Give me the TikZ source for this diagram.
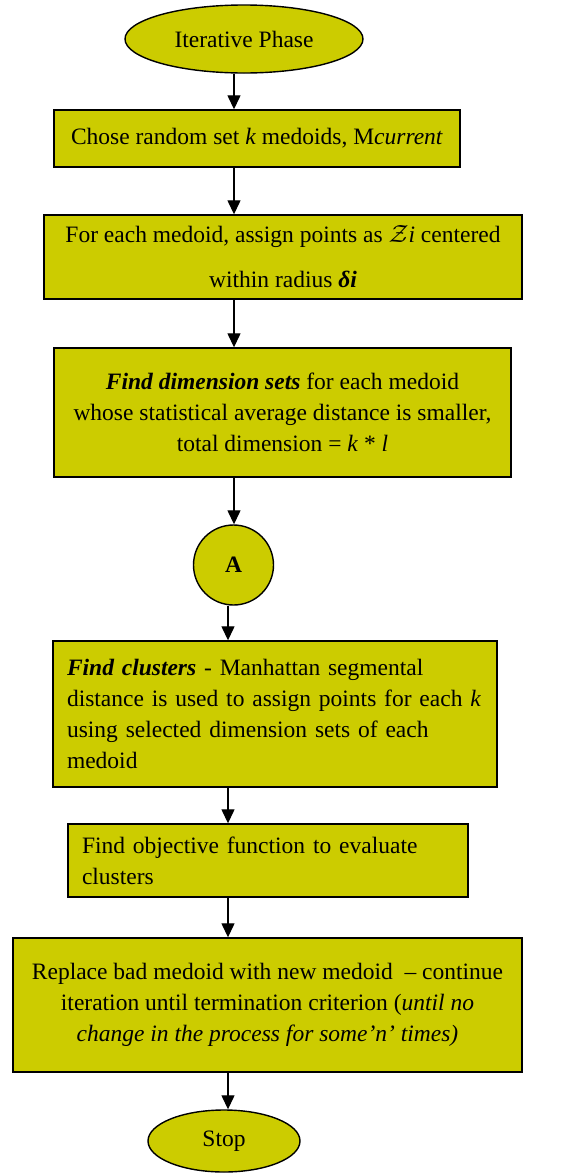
\documentclass[tikz,border=0pt]{standalone}
\usepackage{fontspec}
\setmainfont{Liberation Serif}
\usetikzlibrary{shapes.geometric,arrows.meta}
\definecolor{boxfill}{RGB}{204,204,0}
\tikzset{
  txt/.style={font=\fontsize{23.5}{31}\selectfont},
  stepbox/.style={txt, draw=black, line width=1.4pt, fill=boxfill, rectangle, inner sep=0pt, align=center},
  leftbox/.style={stepbox, align=left},
  terminal/.style={txt, draw=black, line width=1.4pt, fill=boxfill, ellipse, inner sep=0pt},
  connector/.style={txt, draw=black, line width=1.4pt, fill=boxfill, circle, inner sep=0pt},
  arr/.style={line width=1.3pt, -{Triangle[length=14pt,width=13pt]}}
}
\begin{document}
\begin{tikzpicture}[x=1pt,y=-1pt]
\useasboundingbox (0,0) rectangle (586,1173);

% flow axes
\coordinate (colA) at (234,0);
\coordinate (colB) at (228,0);

\node[terminal, minimum width=238pt, minimum height=68pt] (ip) at (244,39) {Iterative Phase};

\node[stepbox, minimum width=406pt, minimum height=57pt] (b1) at (257,138.5)
  {Chose random set \textit{k} medoids, M\textit{current}};

\node[stepbox, minimum width=478pt, minimum height=84pt] (b2) at (283,257)
  {For each medoid, assign points as $\mathcal{Z}\mathit{i}$ centered\\[14pt]
   within radius \textbf{\textit{δi}}};

\node[stepbox, minimum width=457pt, minimum height=129pt] (b3) at (282.5,412.5)
  {\textbf{\textit{Find dimension sets}} for each medoid\\
   whose statistical average distance is smaller,\\
   total dimension = \textit{k} * \textit{l}};

\node[connector, minimum size=80pt] (ca) at (233.5,565) {\textbf{A}};

\node[leftbox, minimum width=444pt, minimum height=146pt, text width=416pt] (b4) at (275,714)
  {\textbf{\textit{Find clusters}} - Manhattan segmental\\
   distance is used to assign points for each \textit{k}\\
   using selected dimension sets of each\\
   medoid};

\node[leftbox, minimum width=400pt, minimum height=73pt, text width=372pt] (b5) at (268,860.5)
  {Find objective function to evaluate\\
   clusters};

\node[stepbox, minimum width=509pt, minimum height=134pt] (b6) at (267.5,1005)
  {Replace bad medoid with new medoid \ – continue\\
   iteration until termination criterion (\textit{until no}\\
   \textit{change in the process for some’n’ times)}};

\node[terminal, minimum width=152pt, minimum height=62pt] (stop) at (224,1141) {Stop};

% connectors
\draw[arr] (ip.south -| colA) -- (b1.north -| colA);
\draw[arr] (b1.south -| colA) -- (b2.north -| colA);
\draw[arr] (b2.south -| colA) -- (b3.north -| colA);
\draw[arr] (b3.south -| colA) -- (ca.north -| colA);
\draw[arr] (ca.south -| colB) -- (b4.north -| colB);
\draw[arr] (b4.south -| colB) -- (b5.north -| colB);
\draw[arr] (b5.south -| colB) -- (b6.north -| colB);
\draw[arr] (b6.south -| colB) -- (stop.north -| colB);
\end{tikzpicture}
\end{document}
